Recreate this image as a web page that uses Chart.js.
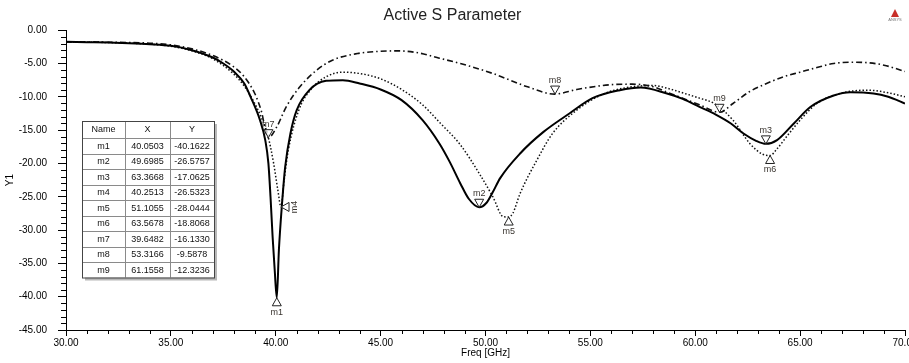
<!DOCTYPE html>
<html><head><meta charset="utf-8">
<script src="https://cdn.jsdelivr.net/npm/chart.js@4/dist/chart.umd.min.js"></script>
<style>html,body{margin:0;padding:0;background:#fff;overflow:hidden}</style>
</head><body>
<canvas id="c" width="909" height="363"></canvas>
<script>
// ---------- data ----------
const solidFreq = [30,31,32,33,34,35,36,37,37.5,38,38.5,38.8,39.25,39.5,39.65,39.75,39.85,39.95,40.05,40.15,40.3,40.45,40.7,41.0,41.6,42.4,43.2,44.0,45,46,47,47.8,48.3,48.8,49.2,49.7,50.05,50.35,50.7,51.65,52.75,54.0,55.1,56.4,57.4,58.65,59.4,60.2,61.0,61.7,62.3,62.9,63.37,63.9,64.7,65.5,66.6,67.4,68.5,69.2,70];
const solidDb   = [-1.75,-1.8,-1.85,-1.95,-2.1,-2.35,-3.0,-4.1,-5.0,-6.2,-8.0,-10.0,-13.5,-16.5,-20,-25,-31,-36,-40.16,-33,-26,-20.5,-15.5,-12.0,-9.0,-7.6,-7.5,-8.0,-8.9,-10.5,-13.5,-17.0,-19.8,-23.0,-25.3,-26.58,-25.9,-24.3,-22.2,-18.5,-15.3,-12.5,-10.2,-9.0,-8.6,-9.5,-10.3,-11.5,-12.7,-14.0,-15.5,-16.6,-17.06,-16.5,-14.0,-11.5,-9.8,-9.3,-9.5,-10.0,-11.0];

const dottedFreq = [30,32,34,35,36,37,38,38.5,39,39.3,39.6,39.9,40.1,40.25,40.4,40.6,41.1,41.7,42.4,43.2,44.0,45.0,46.0,47,47.8,48.8,49.7,50.35,50.85,51.1,51.3,51.65,52.45,53.2,54.35,55.6,56.75,58.0,58.65,59.5,60.2,60.9,61.8,62.6,63.2,63.57,63.9,64.4,65.0,65.8,66.9,68.2,69.2,70];
const dottedDb   = [-1.75,-1.85,-2.1,-2.4,-3.1,-4.3,-6.6,-8.4,-11.0,-13.0,-15.5,-20,-24,-26.53,-22.5,-18,-12,-8.8,-7.0,-6.3,-6.5,-7.3,-8.9,-11.2,-13.8,-17.2,-21.5,-25,-28,-28.04,-27.5,-24.5,-19.5,-15.5,-12,-9.6,-8.6,-8.3,-8.7,-9.5,-10.2,-11,-13.5,-17,-18.6,-18.81,-17.8,-15.8,-13.5,-11,-9.5,-9.0,-9.4,-10.0];

const dashDotFreq = [30,32,34,35,36,37,38,38.5,39.0,39.3,39.65,40.05,40.5,41.15,41.95,42.7,43.9,44.8,45.8,46.8,47.8,48.8,50.35,52,53.3,54.35,55.9,57,58.0,58.65,59.4,60.2,61.16,61.8,62.6,63.4,64.2,65,65.8,66.6,67.5,68.3,69,70];
const dashDotDb   = [-1.75,-1.8,-1.95,-2.2,-2.8,-3.8,-5.5,-7.0,-9.5,-12,-16.13,-14.5,-11.5,-8.5,-6,-4.5,-3.5,-3.2,-3.1,-3.4,-4.2,-5.0,-6.5,-8.5,-9.59,-8.9,-8.2,-8.1,-8.5,-9.3,-10.2,-11.2,-12.32,-11,-9.2,-8,-7.0,-6.3,-5.6,-5.0,-4.8,-4.9,-5.25,-6.2];

const markerNames = ['m1','m2','m3','m4','m5','m6','m7','m8','m9'];
const markerX = [40.0503,49.6985,63.3668,40.2513,51.1055,63.5678,39.6482,53.3166,61.1558];
const markerY = [-40.1622,-26.5757,-17.0625,-26.5323,-28.0444,-18.8068,-16.1330,-9.5878,-12.3236];

const xMin = 30, xMax = 70, xStep = 5;
const yMin = -45, yMax = 0, yStep = 5;
const titleText = 'Active S Parameter';
const xTitle = 'Freq [GHz]';
const yTitle = 'Y1';

// ---------- styles ----------
const FONT = '"Liberation Sans", Arial, sans-serif';
const markerShape = {m1:'up',m2:'down',m3:'down',m4:'left',m5:'up',m6:'up',m7:'down',m8:'down',m9:'down'};

const pts = (xs, ys) => xs.map((v, i) => ({x: v, y: ys[i]}));

const minorTicks = {
  id: 'minorTicks',
  afterDraw(chart) {
    const {ctx, scales: {x, y}} = chart;
    ctx.save();
    ctx.strokeStyle = '#000'; ctx.lineWidth = 1;
    ctx.beginPath();
    for (let v = xMin; v <= xMax; v += 1) {
      if (v % xStep === 0) continue;
      const px = Math.round(x.getPixelForValue(v)) + 0.5;
      ctx.moveTo(px, y.bottom); ctx.lineTo(px, y.bottom + 4);
    }
    for (let v = yMin; v <= yMax; v += 1) {
      if (v % yStep === 0) continue;
      const py = Math.round(y.getPixelForValue(v)) + 0.5;
      ctx.moveTo(x.left - 5, py); ctx.lineTo(x.left, py);
    }
    ctx.stroke();
    ctx.restore();
  }
};

const markerPlugin = {
  id: 'markers',
  afterDatasetsDraw(chart) {
    const {ctx, scales: {x, y}} = chart;
    ctx.save();
    ctx.font = '9px ' + FONT;
    const w = 4.5, h = 8;
    markerNames.forEach((name, i) => {
      const px = x.getPixelForValue(markerX[i]);
      const py = y.getPixelForValue(markerY[i]);
      const shape = markerShape[name];
      ctx.beginPath();
      if (shape === 'down') { ctx.moveTo(px, py); ctx.lineTo(px - w, py - h); ctx.lineTo(px + w, py - h); }
      else if (shape === 'up') { ctx.moveTo(px, py); ctx.lineTo(px - w, py + h); ctx.lineTo(px + w, py + h); }
      else { ctx.moveTo(px, py); ctx.lineTo(px + h, py - w); ctx.lineTo(px + h, py + w); }
      ctx.closePath();
      ctx.fillStyle = 'rgba(255,255,255,0.7)'; ctx.fill();
      ctx.strokeStyle = '#222'; ctx.lineWidth = 1; ctx.stroke();
      ctx.fillStyle = '#3a3530';
      if (shape === 'down') {
        ctx.textAlign = 'center'; ctx.textBaseline = 'bottom';
        ctx.fillText(name, px, py - h - 1);
      } else if (shape === 'up') {
        ctx.textAlign = 'center'; ctx.textBaseline = 'top';
        ctx.fillText(name, px, py + h + 2);
      } else {
        ctx.save();
        ctx.translate(px + h + 5, py);
        ctx.rotate(-Math.PI / 2);
        ctx.textAlign = 'center'; ctx.textBaseline = 'middle';
        ctx.fillText(name, 0, 0);
        ctx.restore();
      }
    });
    ctx.restore();
  }
};

const tablePlugin = {
  id: 'markerTable',
  afterDraw(chart) {
    const ctx = chart.ctx;
    const left = 82, top = 121, colW = [43, 45, 44], headH = 17, rowH = 15.5;
    const W = colW[0] + colW[1] + colW[2];
    const H = headH + rowH * markerNames.length;
    ctx.save();
    ctx.fillStyle = '#b8b8b8';
    ctx.fillRect(left + 3, top + 3, W, H);
    ctx.fillStyle = '#fff';
    ctx.fillRect(left, top, W, H);
    ctx.strokeStyle = '#8a8a8a'; ctx.lineWidth = 1;
    ctx.beginPath();
    let cx = left;
    for (let c = 0; c < 2; c++) { cx += colW[c]; ctx.moveTo(Math.round(cx) + 0.5, top); ctx.lineTo(Math.round(cx) + 0.5, top + H); }
    for (let r = 0; r < markerNames.length; r++) {
      const yy = Math.round(top + headH + r * rowH) + 0.5;
      ctx.moveTo(left, yy); ctx.lineTo(left + W, yy);
    }
    ctx.stroke();
    ctx.strokeStyle = '#444';
    ctx.strokeRect(left + 0.5, top + 0.5, W, H);
    ctx.fillStyle = '#111';
    ctx.font = '9px ' + FONT;
    ctx.textAlign = 'center'; ctx.textBaseline = 'middle';
    const centers = [left + colW[0] / 2, left + colW[0] + colW[1] / 2, left + colW[0] + colW[1] + colW[2] / 2];
    ['Name', 'X', 'Y'].forEach((t, c) => ctx.fillText(t, centers[c], top + headH / 2 + 0.5));
    markerNames.forEach((n, r) => {
      const yy = top + headH + r * rowH + rowH / 2 + 0.5;
      ctx.fillText(n, centers[0], yy);
      ctx.fillText(markerX[r].toFixed(4), centers[1], yy);
      ctx.fillText(markerY[r].toFixed(4), centers[2], yy);
    });
    // small logo mark at top right
    ctx.fillStyle = '#c8302a';
    ctx.beginPath(); ctx.moveTo(895, 9); ctx.lineTo(891, 17); ctx.lineTo(899, 17); ctx.closePath(); ctx.fill();
    ctx.fillStyle = '#777'; ctx.font = '4px ' + FONT;
    ctx.fillText('ANSYS', 895, 20);
    ctx.restore();
  }
};

Chart.defaults.font.family = FONT;
Chart.defaults.color = '#000';

new Chart(document.getElementById('c'), {
  type: 'line',
  data: {
    datasets: [
      { label: 'solid', data: pts(solidFreq, solidDb), borderColor: '#000', borderWidth: 2, pointRadius: 0, cubicInterpolationMode: 'monotone', fill: false },
      { label: 'dotted', data: pts(dottedFreq, dottedDb), borderColor: '#111', borderWidth: 1.5, borderDash: [1.5, 2], pointRadius: 0, cubicInterpolationMode: 'monotone', fill: false },
      { label: 'dashdot', data: pts(dashDotFreq, dashDotDb), borderColor: '#111', borderWidth: 1.6, borderDash: [6, 3, 1.5, 3], pointRadius: 0, cubicInterpolationMode: 'monotone', fill: false }
    ]
  },
  options: {
    responsive: false, animation: false, devicePixelRatio: 1,
    layout: { padding: { left: 0, right: 4, top: 0, bottom: 0 } },
    plugins: {
      legend: { display: false }, tooltip: { enabled: false },
      title: { display: true, text: titleText, color: '#222', font: { size: 16, weight: 'normal', family: FONT }, padding: { top: 6, bottom: 5 } }
    },
    scales: {
      x: {
        type: 'linear', min: xMin, max: xMax,
        ticks: { stepSize: xStep, autoSkip: false, maxRotation: 0, padding: 1, color: '#000', font: { size: 10 }, callback: v => Number(v).toFixed(2) },
        grid: { drawOnChartArea: false, drawTicks: true, tickLength: 6, tickColor: '#000', color: '#000' },
        border: { display: true, color: '#000', width: 1 },
        title: { display: true, text: xTitle, color: '#000', font: { size: 10 }, padding: { top: 0, bottom: 4 } },
        afterFit(s) { s.height = 33; s.paddingLeft = 0; s.paddingRight = 0; }
      },
      y: {
        type: 'linear', min: yMin, max: yMax,
        ticks: { stepSize: yStep, autoSkip: false, padding: 11, color: '#000', font: { size: 10 }, callback: v => Number(v).toFixed(2) },
        grid: { drawOnChartArea: false, drawTicks: true, tickLength: 8, tickColor: '#000', color: '#000' },
        border: { display: true, color: '#000', width: 1 },
        title: { display: true, text: yTitle, color: '#000', font: { size: 10 }, padding: { top: 4, bottom: 0 } },
        afterFit(s) { s.width = 66; s.paddingTop = 0; s.paddingBottom = 0; }
      }
    }
  },
  plugins: [minorTicks, markerPlugin, tablePlugin]
});
</script>
</body></html>
